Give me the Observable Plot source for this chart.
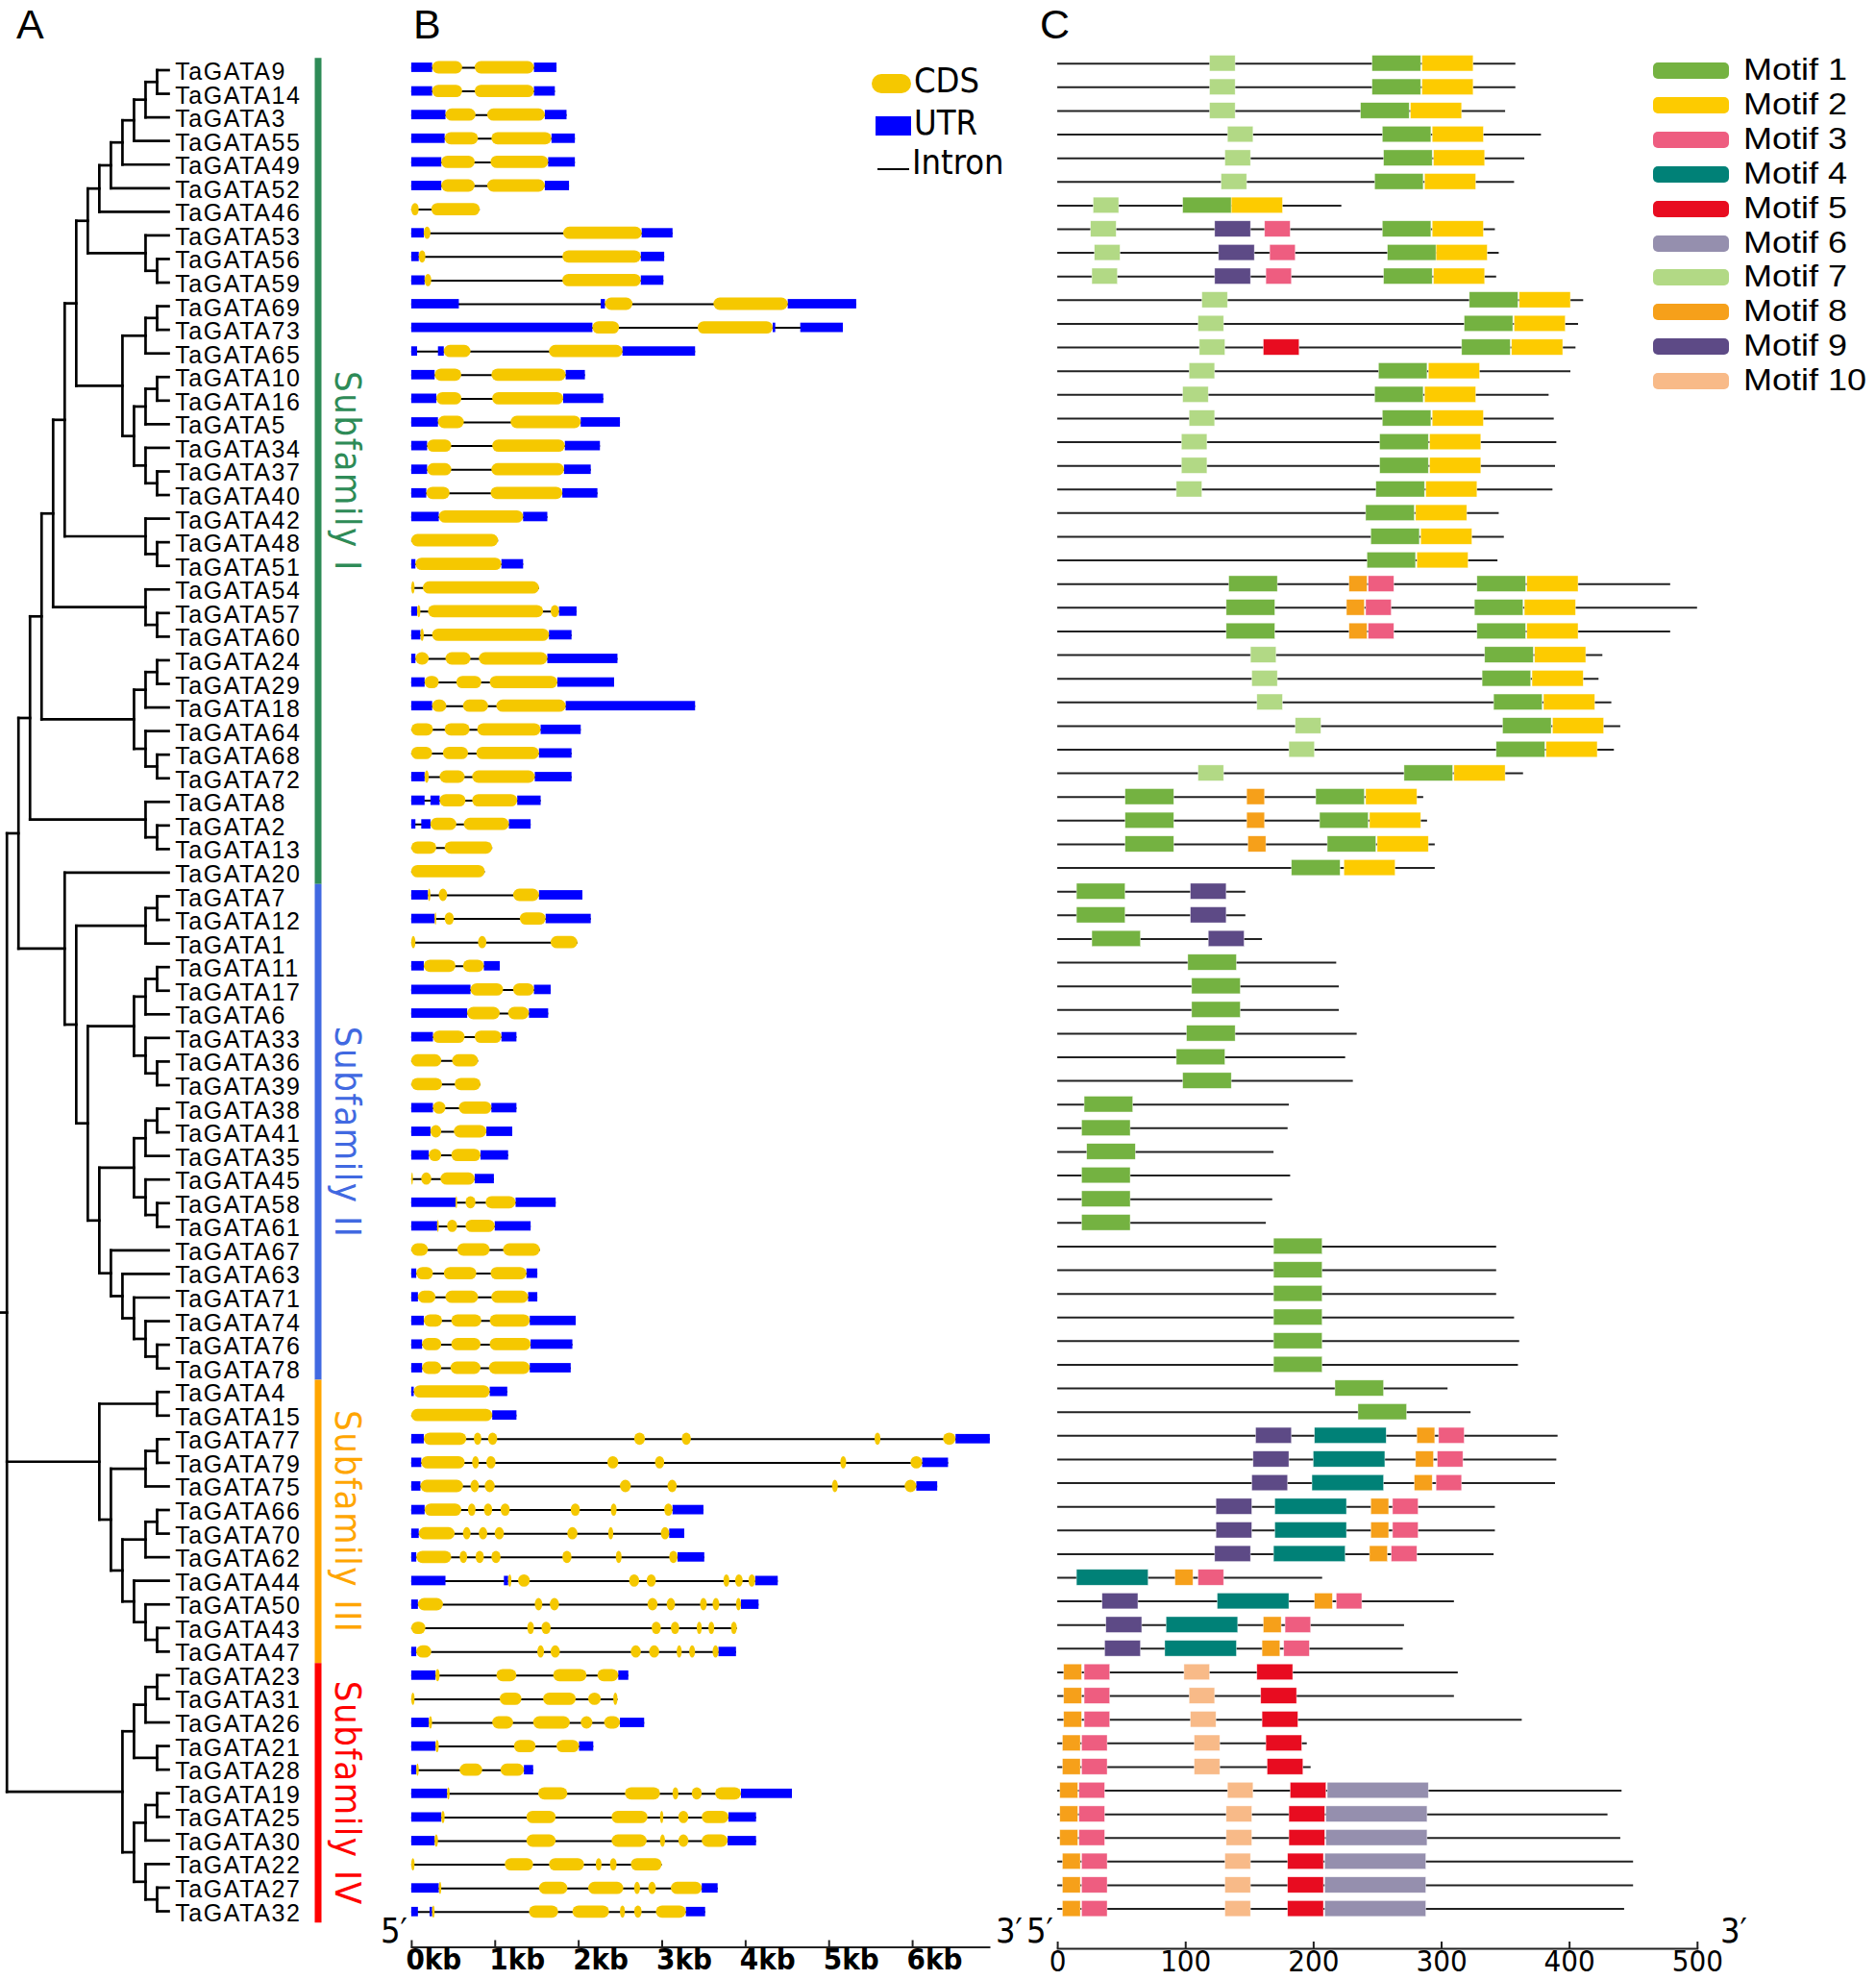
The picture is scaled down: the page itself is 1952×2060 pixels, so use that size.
<!DOCTYPE html>
<html><head><meta charset="utf-8">
<script src="https://cdn.jsdelivr.net/npm/d3@7"></script>
<script src="https://cdn.jsdelivr.net/npm/@observablehq/plot@0.6"></script>
<style>
body{margin:0;background:#fff;}
#wrap{position:relative;width:1952px;height:2060px;overflow:hidden;font-family:"Liberation Sans",Arial,sans-serif;color:#000;}
#wrap svg{position:absolute;left:0;top:0;}
.abs{position:absolute;white-space:nowrap;line-height:1;}
.narrow{font-family:"Liberation Sans Narrow","Arial Narrow","DejaVu Sans Condensed",sans-serif;}
.tree text{letter-spacing:1.6px;}
.tree text.sub{letter-spacing:0;}
</style></head><body><div id="wrap"></div>
<script>
// ---------------- DATA ----------------
const genes = ["TaGATA9","TaGATA14","TaGATA3","TaGATA55","TaGATA49","TaGATA52","TaGATA46","TaGATA53","TaGATA56","TaGATA59",
"TaGATA69","TaGATA73","TaGATA65","TaGATA10","TaGATA16","TaGATA5","TaGATA34","TaGATA37","TaGATA40","TaGATA42",
"TaGATA48","TaGATA51","TaGATA54","TaGATA57","TaGATA60","TaGATA24","TaGATA29","TaGATA18","TaGATA64","TaGATA68",
"TaGATA72","TaGATA8","TaGATA2","TaGATA13","TaGATA20","TaGATA7","TaGATA12","TaGATA1","TaGATA11","TaGATA17",
"TaGATA6","TaGATA33","TaGATA36","TaGATA39","TaGATA38","TaGATA41","TaGATA35","TaGATA45","TaGATA58","TaGATA61",
"TaGATA67","TaGATA63","TaGATA71","TaGATA74","TaGATA76","TaGATA78","TaGATA4","TaGATA15","TaGATA77","TaGATA79",
"TaGATA75","TaGATA66","TaGATA70","TaGATA62","TaGATA44","TaGATA50","TaGATA43","TaGATA47","TaGATA23","TaGATA31",
"TaGATA26","TaGATA21","TaGATA28","TaGATA19","TaGATA25","TaGATA30","TaGATA22","TaGATA27","TaGATA32"];

// cladogram: [nodeLevel, ...children]; leaves are gene names (tips at level 14)
const tree = [0,
  [1,
    [2,
      [3,
        [4,
          [5,
            [6,
              [7,
                [8, [9, [10, [11, [12, [13,"TaGATA9","TaGATA14"], "TaGATA3"], "TaGATA55"], "TaGATA49"], "TaGATA52"], "TaGATA46"],
                [12, "TaGATA53", [13,"TaGATA56","TaGATA59"]]
              ],
              [10,
                [12, [13,"TaGATA69","TaGATA73"], "TaGATA65"],
                [11, [12, [13,"TaGATA10","TaGATA16"], "TaGATA5"], [12, "TaGATA34", [13,"TaGATA37","TaGATA40"]]]
              ]
            ],
            [12, "TaGATA42", [13,"TaGATA48","TaGATA51"]]
          ],
          [12, "TaGATA54", [13,"TaGATA57","TaGATA60"]]
        ],
        [11, [12, [13,"TaGATA24","TaGATA29"], "TaGATA18"], [12, "TaGATA64", [13,"TaGATA68","TaGATA72"]]]
      ],
      [12, "TaGATA8", [13,"TaGATA2","TaGATA13"]]
    ],
    [5, "TaGATA20",
      [6,
        [12, [13,"TaGATA7","TaGATA12"], "TaGATA1"],
        [7,
          [11, [12, [13,"TaGATA11","TaGATA17"], "TaGATA6"], [12, "TaGATA33", [13,"TaGATA36","TaGATA39"]]],
          [8,
            [11, [12, [13,"TaGATA38","TaGATA41"], "TaGATA35"], [12, "TaGATA45", [13,"TaGATA58","TaGATA61"]]],
            [9, "TaGATA67", [10, "TaGATA63", [11, "TaGATA71", [12, "TaGATA74", [13,"TaGATA76","TaGATA78"]]]]]
          ]
        ]
      ]
    ]
  ],
  [8, [13,"TaGATA4","TaGATA15"],
    [9, [12, [13,"TaGATA77","TaGATA79"], "TaGATA75"],
        [10, [12, [13,"TaGATA66","TaGATA70"], "TaGATA62"],
             [11, "TaGATA44", [12, "TaGATA50", [13,"TaGATA43","TaGATA47"]]]]]
  ],
  [10,
    [11, [12, [13,"TaGATA23","TaGATA31"], "TaGATA26"], [13,"TaGATA21","TaGATA28"]],
    [11, [12, [13,"TaGATA19","TaGATA25"], "TaGATA30"], [12, "TaGATA22", [13,"TaGATA27","TaGATA32"]]]
  ]
];
const tipLevel = 14;
const rootStubLevel = -0.56;

const subfamilies = ["Subfamily I","Subfamily II","Subfamily III","Subfamily IV"];
const subfamilyFirst = ["TaGATA9","TaGATA7","TaGATA4","TaGATA23"];
const subfamilyLast = ["TaGATA20","TaGATA78","TaGATA47","TaGATA32"];
const subfamilyColors = ["#2E8B57","#4169E1","#FFA500","#FF0000"];

// gene structures (kb): U = UTR, C = CDS, start-end
const geneStructures = [
"U0-0.25 C0.25-0.61 C0.76-1.47 U1.47-1.74",
"U0-0.25 C0.25-0.61 C0.76-1.47 U1.47-1.72",
"U0-0.41 C0.41-0.77 C0.91-1.60 U1.60-1.86",
"U0-0.40 C0.40-0.80 C0.96-1.68 U1.68-1.96",
"U0-0.36 C0.36-0.76 C0.95-1.64 U1.64-1.96",
"U0-0.36 C0.36-0.76 C0.91-1.60 U1.60-1.89",
"C0-0.09 C0.24-0.82",
"U0-0.15 C0.15-0.23 C1.82-2.76 U2.76-3.13",
"U0-0.09 C0.09-0.17 C1.81-2.75 U2.75-3.03",
"U0-0.16 C0.16-0.24 C1.81-2.75 U2.75-3.02",
"U0-0.57 U2.27-2.32 C2.32-2.65 C3.62-4.51 U4.51-5.33",
"U0-2.17 C2.17-2.49 C3.43-4.33 U4.33-4.36 U4.66-5.17",
"U0-0.07 U0.32-0.39 C0.39-0.71 C1.65-2.53 U2.53-3.40",
"U0-0.28 C0.28-0.60 C0.96-1.85 U1.85-2.08",
"U0-0.30 C0.30-0.60 C0.97-1.82 U1.82-2.30",
"U0-0.32 C0.32-0.63 C1.19-2.03 U2.03-2.50",
"U0-0.19 C0.19-0.48 C0.97-1.84 U1.84-2.26",
"U0-0.19 C0.19-0.48 C0.96-1.83 U1.83-2.15",
"U0-0.18 C0.18-0.46 C0.95-1.81 U1.81-2.23",
"U0-0.33 C0.33-1.34 U1.34-1.63",
"C0-1.04",
"U0-0.05 C0.05-1.08 U1.08-1.34",
"C0-0.04 C0.14-1.53",
"U0-0.07 C0.07-0.11 C0.20-1.58 C1.67-1.77 U1.77-1.98",
"U0-0.11 C0.11-0.15 C0.25-1.65 U1.65-1.92",
"U0-0.05 C0.05-0.21 C0.41-0.71 C0.81-1.63 U1.63-2.47",
"U0-0.16 C0.16-0.33 C0.54-0.84 C0.94-1.75 U1.75-2.43",
"U0-0.25 C0.25-0.42 C0.62-0.92 C1.02-1.85 U1.85-3.40",
"C0-0.26 C0.40-0.70 C0.79-1.55 U1.55-2.03",
"C0-0.25 C0.38-0.68 C0.78-1.53 U1.53-1.92",
"U0-0.16 C0.16-0.21 C0.34-0.64 C0.73-1.48 U1.48-1.92",
"U0-0.16 U0.23-0.34 C0.34-0.65 C0.73-1.27 U1.27-1.55",
"U0-0.05 U0.12-0.23 C0.23-0.54 C0.63-1.17 U1.17-1.43",
"C0-0.30 C0.40-0.97",
"C0-0.88",
"U0-0.20 C0.20-0.23 C0.33-0.43 C1.22-1.53 U1.53-2.05",
"U0-0.28 C0.28-0.30 C0.40-0.51 C1.30-1.61 U1.61-2.15",
"C0-0.05 C0.80-0.90 C1.67-1.99",
"U0-0.15 C0.15-0.53 C0.62-0.87 U0.87-1.06",
"U0-0.71 C0.71-1.10 C1.22-1.47 U1.47-1.67",
"U0-0.67 C0.67-1.06 C1.16-1.41 U1.41-1.64",
"U0-0.26 C0.26-0.64 C0.76-1.08 U1.08-1.26",
"C0-0.36 C0.49-0.80",
"C0-0.37 C0.52-0.83",
"U0-0.26 C0.26-0.41 C0.57-0.96 U0.96-1.26",
"U0-0.23 C0.23-0.36 C0.51-0.90 U0.90-1.21",
"U0-0.21 C0.21-0.36 C0.48-0.83 U0.83-1.16",
"C0-0.02 C0.12-0.24 C0.35-0.76 U0.76-0.99",
"U0-0.53 C0.53-0.55 C0.65-0.77 C0.89-1.25 U1.25-1.73",
"U0-0.31 C0.31-0.33 C0.43-0.55 C0.65-1.00 U1.00-1.43",
"C0-0.20 C0.55-0.94 C1.10-1.54",
"U0-0.06 C0.06-0.26 C0.39-0.78 C0.95-1.38 U1.38-1.51",
"U0-0.08 C0.08-0.29 C0.41-0.80 C0.96-1.40 U1.40-1.51",
"U0-0.15 C0.15-0.37 C0.48-0.84 C0.94-1.42 U1.42-1.97",
"U0-0.13 C0.13-0.36 C0.48-0.83 C0.94-1.43 U1.43-1.93",
"U0-0.13 C0.13-0.36 C0.47-0.83 C0.93-1.42 U1.42-1.91",
"U0-0.03 C0.03-0.94 U0.94-1.15",
"C0-0.97 U0.97-1.26",
"U0-0.15 C0.15-0.66 C0.75-0.84 C0.92-1.03 C2.67-2.80 C3.24-3.35 C5.55-5.62 C6.37-6.52 U6.52-6.93",
"U0-0.12 C0.12-0.64 C0.73-0.81 C0.90-1.01 C2.35-2.48 C2.92-3.03 C5.14-5.21 C5.98-6.12 U6.12-6.43",
"U0-0.11 C0.11-0.62 C0.71-0.81 C0.88-1.00 C2.50-2.63 C3.07-3.18 C5.04-5.11 C5.91-6.05 U6.05-6.30",
"U0-0.16 C0.16-0.60 C0.68-0.77 C0.87-0.97 C1.07-1.18 C1.91-2.02 C2.39-2.46 C3.03-3.13 U3.13-3.50",
"U0-0.09 C0.09-0.52 C0.62-0.71 C0.81-0.91 C1.00-1.11 C1.87-1.99 C2.36-2.42 C2.99-3.09 U3.09-3.27",
"U0-0.06 C0.06-0.48 C0.58-0.67 C0.77-0.87 C0.96-1.07 C1.81-1.92 C2.45-2.52 C3.09-3.19 U3.19-3.51",
"U0-0.41 U1.11-1.16 C1.16-1.20 C1.28-1.42 C2.61-2.73 C2.82-2.93 C3.74-3.81 C3.88-3.97 C4.04-4.12 U4.12-4.39",
"U0-0.08 C0.08-0.38 C1.48-1.57 C1.66-1.77 C2.83-2.95 C3.06-3.16 C3.46-3.54 C3.61-3.69 C3.89-3.95 U3.95-4.16",
"C0-0.17 C1.39-1.47 C1.56-1.67 C2.88-2.99 C3.11-3.21 C3.42-3.48 C3.56-3.63 C3.83-3.90",
"U0-0.06 C0.06-0.24 C1.51-1.59 C1.67-1.78 C2.63-2.75 C2.85-2.97 C3.18-3.24 C3.33-3.40 C3.61-3.68 U3.68-3.89",
"U0-0.29 C0.29-0.34 C1.02-1.26 C1.70-2.10 C2.23-2.48 U2.48-2.60",
"C0-0.04 C1.06-1.32 C1.58-1.97 C2.12-2.27 C2.42-2.47",
"U0-0.21 C0.21-0.25 C0.97-1.22 C1.46-1.90 C2.03-2.17 C2.31-2.50 U2.50-2.79",
"U0-0.29 C0.29-0.33 C1.23-1.49 C1.74-2.01 U2.01-2.18",
"U0-0.06 C0.06-0.09 C0.58-0.85 C1.07-1.35 U1.35-1.46",
"U0-0.43 C0.43-0.46 C1.52-1.87 C2.56-2.98 C3.13-3.20 C3.36-3.48 C3.64-3.95 U3.95-4.56",
"U0-0.36 C0.36-0.40 C1.38-1.73 C2.40-2.83 C2.98-3.02 C3.20-3.32 C3.48-3.80 U3.80-4.13",
"U0-0.28 C0.28-0.32 C1.38-1.73 C2.40-2.82 C2.98-3.04 C3.20-3.32 C3.48-3.79 U3.79-4.13",
"C0-0.04 C1.12-1.46 C1.65-2.07 C2.21-2.28 C2.38-2.46 C2.63-3.00",
"U0-0.33 C0.33-0.36 C1.53-1.87 C2.12-2.54 C2.67-2.74 C2.84-2.93 C3.11-3.48 U3.48-3.67",
"U0-0.08 U0.22-0.25 C0.25-0.28 C1.41-1.76 C1.93-2.37 C2.50-2.56 C2.67-2.76 C2.93-3.29 U3.29-3.52"
];

const kbTicks = [0,1,2,3,4,5,6];
const kbMax = 6.92;

// motifs
const motifNames = ["Motif 1","Motif 2","Motif 3","Motif 4","Motif 5","Motif 6","Motif 7","Motif 8","Motif 9","Motif 10"];
const motifColors = ["#74B241","#FDCB00","#EE5D80","#008177","#E80C20","#958FAE","#B2D985","#F6A01A","#5D4A86","#F8BA88"];
const motifWidths = [38,40,20,56,28,79,20,14,28,20];
const proteinLengths = [358,358,350,378,365,357,222,342,345,343,
411,407,405,401,384,388,390,389,387,345,
349,344,479,500,479,426,423,433,440,435,
364,286,289,295,295,147,147,160,218,220,
220,234,225,231,181,180,169,182,168,163,
343,343,343,357,361,360,305,323,391,390,
389,342,342,341,207,310,271,270,313,310,
363,195,198,441,430,440,450,450,443];
// motif number : start (aa)
const motifSites = [
"7:119 1:246 2:285","7:119 1:246 2:285","7:119 1:237 2:276","7:133 1:254 2:293","7:131 1:255 2:294",
"7:128 1:248 2:287","7:28 1:98 2:136","7:26 9:123 3:162 1:254 2:293","7:29 9:126 3:166 1:258 2:296","7:27 9:123 3:163 1:255 2:294",
"7:113 1:322 2:361","7:110 1:318 2:357","7:111 5:161 1:316 2:355","7:103 1:251 2:290","7:98 1:248 2:287",
"7:103 1:254 2:293","7:97 1:252 2:291","7:97 1:252 2:291","7:93 1:249 2:288","1:241 2:280",
"1:245 2:284","1:242 2:281","1:134 8:228 3:243 1:328 2:367","1:132 8:226 3:241 1:326 2:365","1:132 8:228 3:243 1:328 2:367",
"7:151 1:334 2:373","7:152 1:332 2:371","7:156 1:341 2:380","7:186 1:348 2:387","7:181 1:343 2:382",
"7:110 1:271 2:310","1:53 8:148 1:202 2:241","1:53 8:148 1:205 2:244","1:53 8:149 1:211 2:250","1:183 2:224",
"1:15 9:104","1:15 9:104","1:27 9:118","1:102","1:105",
"1:105","1:101","1:93","1:98","1:21",
"1:19","1:23","1:19","1:19","1:19",
"1:169","1:169","1:169","1:169","1:169",
"1:169","1:217","1:235","9:155 4:201 8:281 3:298","9:153 4:200 8:280 3:297",
"9:152 4:199 8:279 3:296","9:124 4:170 8:245 3:262","9:124 4:170 8:245 3:262","9:123 4:169 8:244 3:261","4:15 8:92 3:110",
"9:35 4:125 8:201 3:218","9:38 4:85 8:161 3:178","9:37 4:84 8:160 3:177","8:5 3:21 10:99 5:156","8:5 3:21 10:103 5:159",
"8:5 3:21 10:104 5:160","8:4 3:19 10:107 5:163","8:4 3:19 10:107 5:164","8:2 3:17 10:133 5:182 6:211","8:2 3:17 10:132 5:181 6:210",
"8:2 3:17 10:132 5:181 6:210","8:4 3:19 10:131 5:180 6:209","8:4 3:19 10:131 5:180 6:209","8:4 3:19 10:131 5:180 6:209"
];
const aaTicks = [0,100,200,300,400,500];
const aaMax = 500;

// ---------------- BUILD ----------------
const NARROW = '"Liberation Sans Narrow","Arial Narrow","DejaVu Sans Condensed",sans-serif';
const SANS = '"Liberation Sans",Arial,sans-serif';
const wrap = document.getElementById("wrap");
const svgStyle = {background: "none", overflow: "visible", fontFamily: SANS, maxWidth: "none"};

// --- Panel A: tree ---
const segs = [];
function lay(node) {
  if (typeof node === "string") return {x: tipLevel, y: genes.indexOf(node)};
  const [lvl, ...kids] = node;
  const ks = kids.map(lay);
  ks.forEach(k => segs.push({x1: lvl, x2: k.x, y1: k.y, y2: k.y}));
  segs.push({x1: lvl, x2: lvl, y1: ks[0].y, y2: ks[ks.length - 1].y});
  return {x: lvl, y: (ks[0].y + ks[ks.length - 1].y) / 2};
}
const rootPos = lay(tree);
segs.push({x1: rootStubLevel, x2: rootPos.x, y1: rootPos.y, y2: rootPos.y});
const leaves = genes.map((g, i) => ({gene: g, row: i}));
const subs = subfamilies.map((s, k) => ({
  name: s,
  y1: genes.indexOf(subfamilyFirst[k]) - 0.5,
  y2: genes.indexOf(subfamilyLast[k]) + 0.5,
  color: subfamilyColors[k]
}));

const plotA = Plot.plot({
  width: 1952, height: 2060, margin: 0,
  className: "tree",
  style: svgStyle,
  x: {domain: [0, tipLevel], range: [6.7, 175], axis: null},
  y: {domain: [0, genes.length - 1], range: [72.5, 1988], axis: null},
  marks: [
    Plot.link(segs, {x1: "x1", y1: "y1", x2: "x2", y2: "y2", stroke: "#000", strokeWidth: 2.7, strokeLinecap: "square"}),
    Plot.text(leaves, {x: () => tipLevel, y: "row", text: "gene", textAnchor: "start", dx: 6.7, dy: 2, fontSize: 25, fill: "#000", fontFamily: SANS}),
    Plot.ruleX(subs, {x: () => tipLevel, y1: "y1", y2: "y2", dx: 155.5, stroke: d => d.color, strokeWidth: 7}),
    Plot.text(subs, {x: () => tipLevel, y: d => (d.y1 + d.y2) / 2, text: "name", rotate: 90, dx: 186, fill: d => d.color, fontSize: 38, fontFamily: NARROW, className: "sub"})
  ]
});
wrap.appendChild(plotA);

// --- Panel B: gene structure ---
const parts = [], spans = [];
geneStructures.forEach((s, i) => {
  let lo = Infinity, hi = -Infinity;
  s.split(" ").forEach(t => {
    const type = t[0];
    const [a, b] = t.slice(1).split("-").map(Number);
    parts.push({gene: genes[i], type, x1: a, x2: b});
    lo = Math.min(lo, a); hi = Math.max(hi, b);
  });
  spans.push({gene: genes[i], x1: lo, x2: hi});
});
const plotB = Plot.plot({
  width: 1952, height: 2060,
  marginLeft: 427.9, marginRight: 923, marginTop: 0, marginBottom: 34.5,
  style: svgStyle,
  x: {domain: [0, kbMax]},
  y: {type: "band", domain: genes, range: [57.7, 2001.1], padding: 0, axis: null},
  marks: [
    Plot.ruleY(spans, {y: "gene", x1: "x1", x2: "x2", stroke: "#000", strokeWidth: 2}),
    Plot.barX(parts.filter(d => d.type === "U"), {y: "gene", x1: "x1", x2: "x2", fill: "#0000FF", insetTop: 7.4, insetBottom: 7.4}),
    Plot.barX(parts.filter(d => d.type === "C"), {y: "gene", x1: "x1", x2: "x2", fill: "#F5C800", insetTop: 5.9, insetBottom: 5.9, rx: 6.5, ry: 6.5}),
    Plot.frame({anchor: "bottom", stroke: "#222", strokeWidth: 2}),
    Plot.axisX(kbTicks, {anchor: "bottom", tickSize: -7, strokeWidth: 2, stroke: "#222", tickFormat: () => "", label: null}),
    Plot.axisX(kbTicks, {anchor: "bottom", tickSize: 0, tickPadding: 1, tickFormat: d => d + "kb", textAnchor: "start", dx: -6, fontSize: 31, fontWeight: "bold", fontFamily: NARROW, fill: "#000", label: null})
  ]
});
wrap.appendChild(plotB);

// --- Panel C: motifs ---
const proteins = genes.map((g, i) => ({gene: g, length: proteinLengths[i]}));
const sites = [];
motifSites.forEach((s, i) => s.split(" ").forEach(t => {
  const [m, st] = t.split(":").map(Number);
  sites.push({gene: genes[i], motif: motifNames[m - 1], start: st, end: st + motifWidths[m - 1]});
}));
const plotC = Plot.plot({
  width: 1952, height: 2060,
  marginLeft: 1100.1, marginRight: 186.2, marginTop: 0, marginBottom: 33,
  style: svgStyle,
  x: {domain: [0, aaMax]},
  y: {type: "band", domain: genes, range: [53.4, 1997.9], padding: 0, axis: null},
  color: {domain: motifNames, range: motifColors},
  marks: [
    Plot.ruleY(proteins, {y: "gene", x1: () => 0, x2: "length", stroke: "#222", strokeWidth: 2}),
    Plot.barX(sites, {y: "gene", x1: "start", x2: "end", fill: "motif", insetTop: 4.05, insetBottom: 4.05, stroke: "#fff", strokeWidth: 0.6, strokeOpacity: 0.7}),
    Plot.frame({anchor: "bottom", stroke: "#222", strokeWidth: 2}),
    Plot.axisX(aaTicks, {anchor: "bottom", tickSize: -7, strokeWidth: 2, stroke: "#222", tickFormat: () => "", label: null}),
    Plot.axisX(aaTicks, {anchor: "bottom", tickSize: 0, tickPadding: 1, fontSize: 31, fontFamily: NARROW, fill: "#000", label: null})
  ]
});
wrap.appendChild(plotC);

// --- HTML text overlays: panel letters, end labels, legends ---
function addDiv(html, css, cls) {
  const d = document.createElement("div");
  d.className = "abs " + (cls || "");
  d.innerHTML = html;
  Object.assign(d.style, css);
  wrap.appendChild(d);
  return d;
}
[["A", 17], ["B", 430], ["C", 1082]].forEach(([t, x]) => addDiv(t, {left: x + "px", top: "4px", fontSize: "43px"}));
[["5′", 396], ["3′", 1036], ["5′", 1068], ["3′", 1790]].forEach(([t, x]) => addDiv(t, {left: x + "px", top: "1998px", fontSize: "36px", lineHeight: "0.6"}, "narrow"));

// gene-structure legend
const legB = [
  {label: "CDS", kind: "cds"},
  {label: "UTR", kind: "utr"},
  {label: "Intron", kind: "intron"}
];
legB.forEach((d, k) => {
  const cy = [86.7, 130.7, 175.7][k];
  if (d.kind === "cds") addDiv("", {left: "907px", top: (cy - 10) + "px", width: "41px", height: "20px", borderRadius: "10px", background: "#F5C800"});
  if (d.kind === "utr") addDiv("", {left: "911px", top: (cy - 10) + "px", width: "37px", height: "20px", background: "#0000FF"});
  if (d.kind === "intron") addDiv("", {left: "913px", top: (cy - 1) + "px", width: "33px", height: "2px", background: "#000"});
  addDiv(d.label, {left: (d.kind === "intron" ? 949 : 951) + "px", top: (cy - 21 - (d.kind === "intron" ? 4 : 0)) + "px", fontSize: "36px"}, "narrow");
});

// motif legend
motifNames.forEach((m, k) => {
  const cy = 73.5 + k * 35.9;
  addDiv("", {left: "1720px", top: (cy - 8.5) + "px", width: "79px", height: "17px", borderRadius: "5px", background: motifColors[k]});
  addDiv(m, {left: "1814px", top: (cy - 14.5) + "px", fontSize: "31px", lineHeight: "0.9", transform: "scaleX(1.16)", transformOrigin: "0 50%"});
});
</script></body></html>
